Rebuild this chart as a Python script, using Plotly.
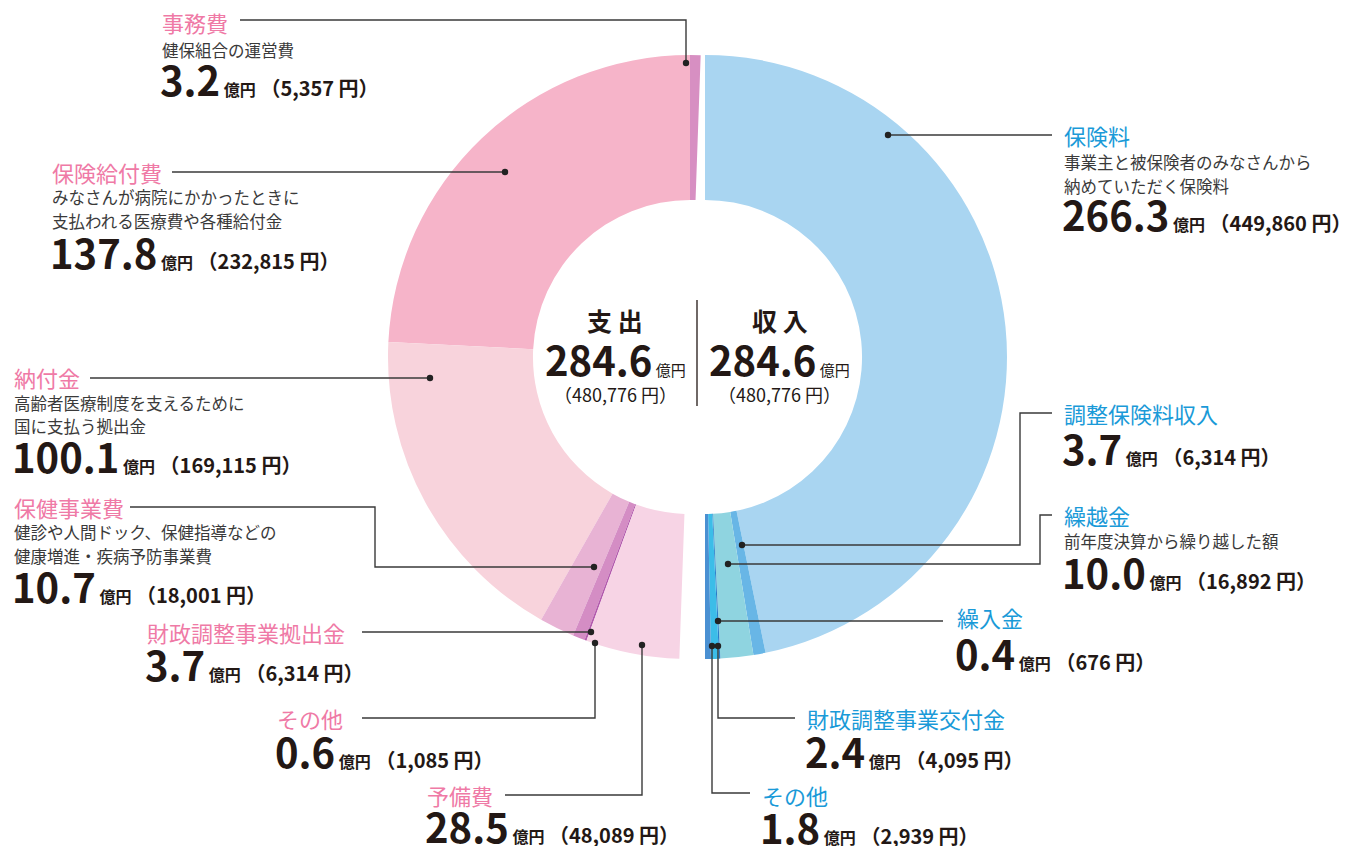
import plotly.graph_objects as go

W, H = 1350, 846

# ---------------- data ----------------
income_names = ["保険料", "調整保険料収入", "繰越金", "繰入金", "財政調整事業交付金", "その他"]
income_values = [266.3, 3.7, 10.0, 0.4, 2.4, 1.8]
income_yen = ["449,860", "6,314", "16,892", "676", "4,095", "2,939"]
income_desc = [["事業主と被保険者のみなさんから", "納めていただく保険料"], [], ["前年度決算から繰り越した額"], [], [], []]

expense_names = ["事務費", "保険給付費", "納付金", "保健事業費", "財政調整事業拠出金", "その他", "予備費"]
expense_values = [3.2, 137.8, 100.1, 10.7, 3.7, 0.6, 28.5]
expense_yen = ["5,357", "232,815", "169,115", "18,001", "6,314", "1,085", "48,089"]
expense_desc = [["健保組合の運営費"], ["みなさんが病院にかかったときに", "支払われる医療費や各種給付金"],
                ["高齢者医療制度を支えるために", "国に支払う拠出金"],
                ["健診や人間ドック、保健指導などの", "健康増進・疾病予防事業費"], [], [], []]

total_label = "284.6"
total_yen = "480,776"

# ---------------- style / layout ----------------
income_colors = ["#a9d5f1", "#68b6e6", "#8fd4e0", "#2a7cc8", "#3cbde8", "#4a90d2"]
expense_colors = ["#d78fc2", "#f6b4c9", "#f8d3dc", "#e8b3d4", "#d48dc4", "#b35aad", "#f7d4e5"]
BLUE = "#1a9ad8"
PINK = "#ef7aa6"
DARK = "#231815"
LINE = "#3a3a3a"
FONT = "Noto Sans CJK JP"

R = 302
HOLE = 0.52
CY = 357
CX_RIGHT = 705
CX_LEFT = 690


def px(x):
    return x / W


def py(y):
    return 1 - y / H


def dom(cx):
    return dict(x=[px(cx - R), px(cx + R)], y=[py(CY + R), py(CY - R)])


fig = go.Figure()
total_in = sum(income_values)
total_out = sum(expense_values)

fig.add_trace(go.Pie(
    values=income_values + [total_in], labels=income_names + ["_sp"],
    marker=dict(colors=income_colors + ["rgba(0,0,0,0)"], line=dict(width=0)),
    hole=HOLE, sort=False, direction="clockwise", rotation=0,
    textinfo="none", hoverinfo="skip", showlegend=False, domain=dom(CX_RIGHT)))

fig.add_trace(go.Pie(
    values=expense_values + [total_out], labels=expense_names + ["_sp2"],
    marker=dict(colors=expense_colors + ["rgba(0,0,0,0)"], line=dict(width=0)),
    hole=HOLE, sort=False, direction="counterclockwise", rotation=0,
    textinfo="none", hoverinfo="skip", showlegend=False, domain=dom(CX_LEFT)))

# label layout (pixels): x, title y, desc ys, value y
income_pos = [
    (1062, 135, [162, 186], 214),
    (1062, 413, [], 448),
    (1062, 515, [541], 572),
    (955, 617, [], 653),
    (805, 718, [], 751),
    (760, 795, [], 827),
]
expense_pos = [
    (160, 22, [50], 79),
    (50, 172, [197, 221], 252),
    (12, 377, [403, 426], 456),
    (12, 507, [532, 556], 586),
    (145, 632, [], 664),
    (275, 718, [], 751),
    (425, 795, [], 826),
]

# leader polylines (pixels); last point is the dot
income_leaders = [
    [(1052, 135), (888, 135)],
    [(1052, 413), (1020, 413), (1020, 545), (742, 545)],
    [(1052, 515), (1040, 515), (1040, 564), (728, 564)],
    [(943, 621), (718, 621)],
    [(795, 718), (718, 718), (718, 646)],
    [(750, 793), (712, 793), (712, 646)],
]
expense_leaders = [
    [(240, 20), (686, 20), (686, 63)],
    [(172, 172), (505, 172)],
    [(90, 378), (430, 378)],
    [(130, 507), (375, 507), (375, 567), (594, 567)],
    [(362, 632), (591, 632)],
    [(362, 718), (595, 718), (595, 643)],
    [(505, 795), (642, 795), (642, 645)],
]

annotations = []
shapes = []


def value_text(v, yen):
    return (f"<span style='font-size:40px'><b>{v}</b></span>"
            f"<span style='font-size:16px'><b> 億円</b></span>"
            f"<span style='font-size:20px'><b> （{yen} 円）</b></span>")


def add_label(name, desc, val, yen, pos, color):
    x, ty, dys, vy = pos
    annotations.append(dict(x=px(x), y=py(ty), text=name, xanchor="left", yanchor="middle",
                            font=dict(size=22, color=color, family=FONT), showarrow=False,
                            xref="paper", yref="paper"))
    for line, dy in zip(desc, dys):
        annotations.append(dict(x=px(x), y=py(dy), text=line, xanchor="left", yanchor="middle",
                                font=dict(size=16.5, color="#3a3a3a", family=FONT), showarrow=False,
                                xref="paper", yref="paper"))
    annotations.append(dict(x=px(x - 2), y=py(vy), text=value_text(f"{val:.1f}", yen),
                            xanchor="left", yanchor="middle",
                            font=dict(size=20, color=DARK, family=FONT), showarrow=False,
                            xref="paper", yref="paper"))


def add_leader(pts):
    path = "M " + " L ".join(f"{px(a):.6f},{py(b):.6f}" for a, b in pts)
    shapes.append(dict(type="path", path=path, xref="paper", yref="paper",
                       line=dict(color=LINE, width=1.4), layer="above"))
    dx, dy = pts[-1]
    r = 3.2
    shapes.append(dict(type="circle", xref="paper", yref="paper",
                       x0=px(dx - r), x1=px(dx + r), y0=py(dy + r), y1=py(dy - r),
                       fillcolor="#222", line=dict(width=0), layer="above"))


for i in range(len(income_names)):
    add_label(income_names[i], income_desc[i], income_values[i], income_yen[i], income_pos[i], BLUE)
    add_leader(income_leaders[i])
for i in range(len(expense_names)):
    add_label(expense_names[i], expense_desc[i], expense_values[i], expense_yen[i], expense_pos[i], PINK)
    add_leader(expense_leaders[i])

# center text
for cx, title in [(615, "支 出"), (780, "収 入")]:
    annotations.append(dict(x=px(cx), y=py(320), text=f"<b>{title}</b>", xanchor="center", yanchor="middle",
                            font=dict(size=25, color=DARK, family=FONT), showarrow=False,
                            xref="paper", yref="paper"))
    annotations.append(dict(x=px(cx), y=py(359),
                            text=f"<span style='font-size:40px'><b>{total_label}</b></span>"
                                 f"<span style='font-size:15px'> 億円</span>",
                            xanchor="center", yanchor="middle",
                            font=dict(size=15, color=DARK, family=FONT), showarrow=False,
                            xref="paper", yref="paper"))
    annotations.append(dict(x=px(cx), y=py(394), text=f"（{total_yen} 円）", xanchor="center", yanchor="middle",
                            font=dict(size=18, color=DARK, family=FONT), showarrow=False,
                            xref="paper", yref="paper"))

shapes.append(dict(type="line", xref="paper", yref="paper", x0=px(697), x1=px(697), y0=py(300), y1=py(406),
                   line=dict(color=DARK, width=1.3), layer="above"))

fig.update_layout(
    width=W, height=H, margin=dict(l=0, r=0, t=0, b=0),
    paper_bgcolor="white", plot_bgcolor="white",
    annotations=annotations, shapes=shapes,
    font=dict(family=FONT),
)

fig.write_html("out.html")
